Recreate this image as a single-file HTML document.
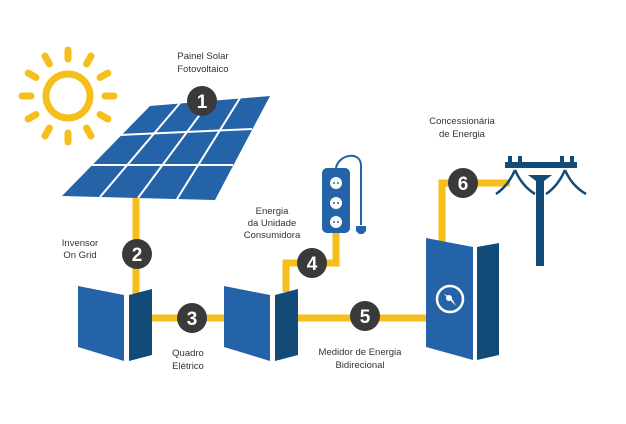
<!DOCTYPE html><html><head><style>body{margin:0;background:#fff}svg{display:block}text{font-family:"Liberation Sans",sans-serif;font-size:9.5px;fill:#333;text-anchor:middle}.b{font-family:"Liberation Sans",sans-serif;font-size:19px;font-weight:bold;fill:#fff;text-anchor:middle}</style></head><body>
<svg width="626" height="424" viewBox="0 0 626 424">
<g stroke="#f6be1a" stroke-linecap="round">
<circle cx="68" cy="96" r="22" fill="none" stroke-width="7"/>
<g stroke-width="7" transform="translate(68,96)">
<line x1="0" y1="-37" x2="0" y2="-46"/><line x1="0" y1="37" x2="0" y2="46"/>
<line x1="-37" y1="0" x2="-46" y2="0"/><line x1="37" y1="0" x2="46" y2="0"/>
<g transform="rotate(30)"><line x1="0" y1="-37" x2="0" y2="-46"/><line x1="0" y1="37" x2="0" y2="46"/><line x1="-37" y1="0" x2="-46" y2="0"/><line x1="37" y1="0" x2="46" y2="0"/></g>
<g transform="rotate(60)"><line x1="0" y1="-37" x2="0" y2="-46"/><line x1="0" y1="37" x2="0" y2="46"/><line x1="-37" y1="0" x2="-46" y2="0"/><line x1="37" y1="0" x2="46" y2="0"/></g>
</g>
</g>
<g fill="none" stroke="#f6be1a" stroke-width="7">
<line x1="136" y1="198" x2="136" y2="294"/>
<line x1="150" y1="318" x2="228" y2="318"/>
<polyline points="286,292 286,263 336,263 336,232"/>
<line x1="296" y1="318" x2="428" y2="318"/>
<polyline points="442,242 442,183 510,183"/>
</g>
<polygon points="150,106 270,96 215,200 62,196" fill="#2563a8"/>
<g stroke="#fff" stroke-width="2">
<line x1="120" y1="135" x2="252" y2="129"/>
<line x1="91" y1="165" x2="233" y2="165"/>
<line x1="180" y1="103" x2="100" y2="197"/>
<line x1="210" y1="101" x2="138" y2="198"/>
<line x1="240" y1="98" x2="177" y2="199"/>
</g>
<circle cx="202" cy="101" r="15" fill="#3a3a3a"/><text class="b" x="202" y="108">1</text>
<circle cx="137" cy="254" r="15" fill="#3a3a3a"/><text class="b" x="137" y="261">2</text>
<polygon points="78,286 124,295 124,361 78,347" fill="#2563a8"/>
<polygon points="129,295 152,289 152,355 129,361" fill="#124a78"/>
<circle cx="192" cy="318" r="15" fill="#3a3a3a"/><text class="b" x="192" y="325">3</text>
<polygon points="224,286 270,295 270,361 224,347" fill="#2563a8"/>
<polygon points="275,295 298,289 298,355 275,361" fill="#124a78"/>
<circle cx="312" cy="263" r="15" fill="#3a3a3a"/><text class="b" x="312" y="270">4</text>
<circle cx="365" cy="316" r="15" fill="#3a3a3a"/><text class="b" x="365" y="323">5</text>
<rect x="322" y="168" width="28" height="65" rx="5" fill="#2563a8"/>
<g fill="#fff"><circle cx="336" cy="183" r="6"/><circle cx="336" cy="203" r="6"/><circle cx="336" cy="222" r="6"/></g>
<g fill="#2563a8"><circle cx="334" cy="183" r="1"/><circle cx="338" cy="183" r="1"/><circle cx="334" cy="203" r="1"/><circle cx="338" cy="203" r="1"/><circle cx="334" cy="222" r="1"/><circle cx="338" cy="222" r="1"/></g>
<path d="M336,168 C338,155 360,150 361,165 L361,225" fill="none" stroke="#2563a8" stroke-width="2"/>
<path d="M356,226 h10 v5 l-3,3 h-4 l-3,-3z" fill="#2563a8"/>
<polygon points="426,238 473,247 473,360 426,347" fill="#2563a8"/>
<polygon points="477,247 499,243 499,355 477,360" fill="#124a78"/>
<circle cx="450" cy="299" r="13" fill="none" stroke="#fff" stroke-width="2.5"/>
<path d="M444,294 L456,306 L451,297z" fill="#fff"/><circle cx="449" cy="298" r="3" fill="#fff"/>
<circle cx="463" cy="183" r="15" fill="#3a3a3a"/><text class="b" x="463" y="190">6</text>
<g fill="#124a78">
<rect x="505" y="162" width="72" height="6"/>
<rect x="508" y="156" width="4" height="8"/><rect x="518" y="156" width="4" height="8"/>
<rect x="560" y="156" width="4" height="8"/><rect x="570" y="156" width="4" height="8"/>
<path d="M528,175 h24 l-8,6 v85 h-8 v-85z"/>
</g>
<g fill="none" stroke="#124a78" stroke-width="2.5">
<path d="M515,170 Q508,186 496,194"/><path d="M515,170 Q522,186 535,194"/>
<path d="M565,170 Q558,186 546,194"/><path d="M565,170 Q572,186 586,194"/>
</g>
<text x="203" y="59">Painel Solar</text><text x="203" y="72">Fotovoltaico</text>
<text x="80" y="246">Invensor</text><text x="80" y="258">On Grid</text>
<text x="272" y="214">Energia</text><text x="272" y="226">da Unidade</text><text x="272" y="238">Consumidora</text>
<text x="188" y="356">Quadro</text><text x="188" y="369">Elétrico</text>
<text x="360" y="355">Medidor de Energia</text><text x="360" y="368">Bidirecional</text>
<text x="462" y="124">Concessionária</text><text x="462" y="137">de Energia</text>
</svg></body></html>
